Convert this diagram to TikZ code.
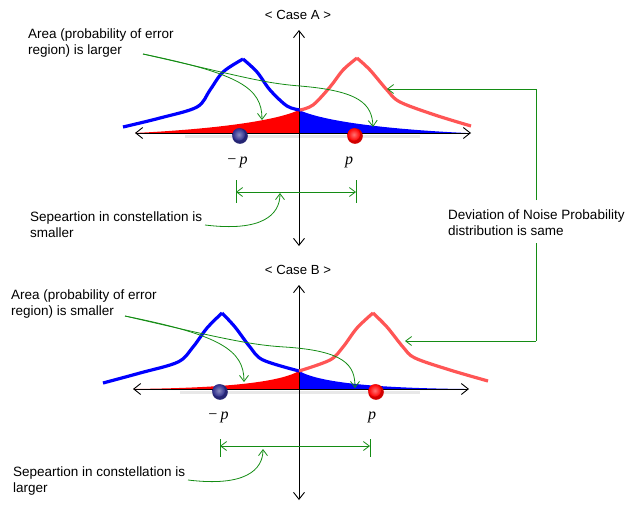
\documentclass[tikz,border=0pt]{standalone}
\usepackage{fontspec}
\setmainfont{Liberation Sans}
\newfontfamily\tnr{Liberation Serif}
\usetikzlibrary{arrows.meta}
\definecolor{ann}{RGB}{20,140,20}
\definecolor{curvered}{RGB}{255,85,85}
\definecolor{ballblue}{RGB}{45,45,140}
\definecolor{ballred}{RGB}{255,0,0}
\newcommand{\myball}[3]{%
  \fill[#3!82!black] (#1,#2) circle (7.8pt);
  \shade[inner color=#3!55!white, outer color=#3] (#1-1.2,#2-1.5) circle (6.2pt);
}
\begin{document}
\begin{tikzpicture}[x=1pt,y=-1pt,
  txt/.style={font=\fontsize{13.5}{16}\selectfont, align=left, inner sep=0pt, anchor=west},
  ttl/.style={font=\fontsize{13.2}{16}\selectfont, inner sep=0pt},
  lbl/.style={font=\tnr\fontsize{16}{18}\selectfont\itshape, inner sep=0pt},
  axisline/.style={draw=black, line width=0.9pt, {Straight Barb[length=7pt,width=11pt]}-{Straight Barb[length=7pt,width=11pt]}},
  annline/.style={draw=ann, line width=0.8pt, -{Straight Barb[length=6pt,width=9pt]}},
  dimline/.style={draw=ann, line width=0.8pt, {Straight Barb[length=6pt,width=9pt]}-{Straight Barb[length=6pt,width=9pt]}},
  tick/.style={draw=ann, line width=0.8pt},
  bluecurve/.style={draw=blue, line width=3.2pt, line join=round},
  redcurve/.style={draw=curvered, line width=3.2pt, line join=round},
  shadowline/.style={draw=gray!18, line width=2.5pt},
]
\useasboundingbox (0,0) rectangle (631,507);

% ================= Case A =================
\node[ttl] (titleA) at (298,15) {< Case A >};
% fills
\fill[red] (135,133) .. controls (215,129) and (275,121) .. (299,110) -- (299,133) -- cycle;
\fill[blue] (299,110) .. controls (323,121) and (383,129) .. (466,133) -- (299,133) -- cycle;
% shadow and axes
\draw[shadowline] (185,136.5) -- (420,136.5);
\coordinate (hAl) at (135,133); \coordinate (hAr) at (471,133);
\coordinate (vAt) at (299,30);  \coordinate (vAb) at (299,246);
\draw[axisline] (hAl) -- (hAr);
\draw[axisline] (vAt) -- (vAb);
% curves
\draw[bluecurve] plot[smooth, tension=0.55] coordinates {(123,127) (160,118) (197,107) (210,90) (223,72) (243,59)};
\draw[bluecurve] plot[smooth, tension=0.55] coordinates {(243,59) (257,72) (270,90) (287,106) (300,110)};
\draw[redcurve] plot[smooth, tension=0.55] coordinates {(300,110) (313,105) (330,87) (343,70) (357,58)};
\draw[redcurve] plot[smooth, tension=0.55] coordinates {(357,58) (370,70) (387,90) (400,102) (435,115) (471,126)};
% dots
\myball{240}{136}{ballblue}
\myball{355}{136}{ballred}
\node[lbl] (mpA) at (237,162) {−\,p};
\node[lbl] (pA) at (349,162) {p};
% dimension
\draw[tick] (236,180) -- (236,203);
\draw[tick] (356,180) -- (356,203);
\coordinate (dAl) at (236,192); \coordinate (dAr) at (356,192);
\draw[dimline] (dAl) -- (dAr);
% annotations
\node[txt] (areaA) at (28,43) {Area (probability of error\\region) is larger};
\coordinate (aA) at (143,54);
\coordinate (aA1) at (262,120);
\coordinate (aA2) at (373,127);
\draw[annline] (aA) .. controls (240,74) and (262,88) .. (aA1);
\draw[annline] (aA) .. controls (240,76) and (262,83) .. (300,86) .. controls (360,91) and (372,104) .. (aA2);
\node[txt] (sepA) at (30,225) {Sepeartion in constellation is\\smaller};
\coordinate (sA) at (205,225);
\coordinate (sA1) at (280,193);
\draw[annline] (sA) .. controls (262,232) and (280,215) .. (sA1);

% ================= Case B =================
\node[ttl] (titleB) at (298,270) {< Case B >};
\fill[red] (133,389) .. controls (220,388) and (278,383) .. (299,371) -- (299,389) -- cycle;
\fill[blue] (299,371) .. controls (320,383) and (378,388) .. (465,389) -- (299,389) -- cycle;
\draw[shadowline] (180,392.5) -- (420,392.5);
\coordinate (hBl) at (133,389); \coordinate (hBr) at (469,389);
\coordinate (vBt) at (299,285); \coordinate (vBb) at (299,500);
\draw[axisline] (hBl) -- (hBr);
\draw[axisline] (vBt) -- (vBb);
\draw[bluecurve] plot[smooth, tension=0.55] coordinates {(103,383) (140,373) (178,362) (193,347) (207,328) (222,313)};
\draw[bluecurve] plot[smooth, tension=0.55] coordinates {(222,313) (235,327) (250,347) (263,360) (299,371)};
\draw[redcurve] plot[smooth, tension=0.55] coordinates {(299,371) (330,360) (343,347) (357,328) (373,313)};
\draw[redcurve] plot[smooth, tension=0.55] coordinates {(373,313) (387,327) (403,347) (415,358) (450,370) (488,381)};
\myball{220}{392}{ballblue}
\myball{376}{392}{ballred}
\node[lbl] (mpB) at (218,417) {−\,p};
\node[lbl] (pB) at (372,417) {p};
\draw[tick] (220,439) -- (220,457);
\draw[tick] (370,439) -- (370,457);
\coordinate (dBl) at (220,446); \coordinate (dBr) at (370,446);
\draw[dimline] (dBl) -- (dBr);
\node[txt] (areaB) at (11,304) {Area (probability of error\\region) is smaller};
\coordinate (aB) at (125,316);
\coordinate (aB1) at (244,382);
\coordinate (aB2) at (355,388);
\draw[annline] (aB) .. controls (220,335) and (244,350) .. (aB1);
\draw[annline] (aB) .. controls (220,338) and (250,345) .. (285,347) .. controls (345,351) and (355,365) .. (aB2);
\node[txt] (sepB) at (13,481) {Sepeartion in constellation is\\larger};
\coordinate (sB) at (188,480);
\coordinate (sB1) at (263,449);
\draw[annline] (sB) .. controls (245,487) and (263,470) .. (sB1);

% ================= Right bracket =================
\node[txt] (dev) at (448,223) {Deviation of Noise Probability\\distribution is same};
\coordinate (bt) at (536,89);
\coordinate (bb) at (536,341);
\coordinate (btip) at (387,89);
\coordinate (bbip) at (405,341);
\draw[ann, line width=0.8pt] (536,200) -- (bt);
\draw[annline] (bt) -- (btip);
\draw[ann, line width=0.8pt] (536,243) -- (bb);
\draw[annline] (bb) -- (bbip);
\end{tikzpicture}
\end{document}
